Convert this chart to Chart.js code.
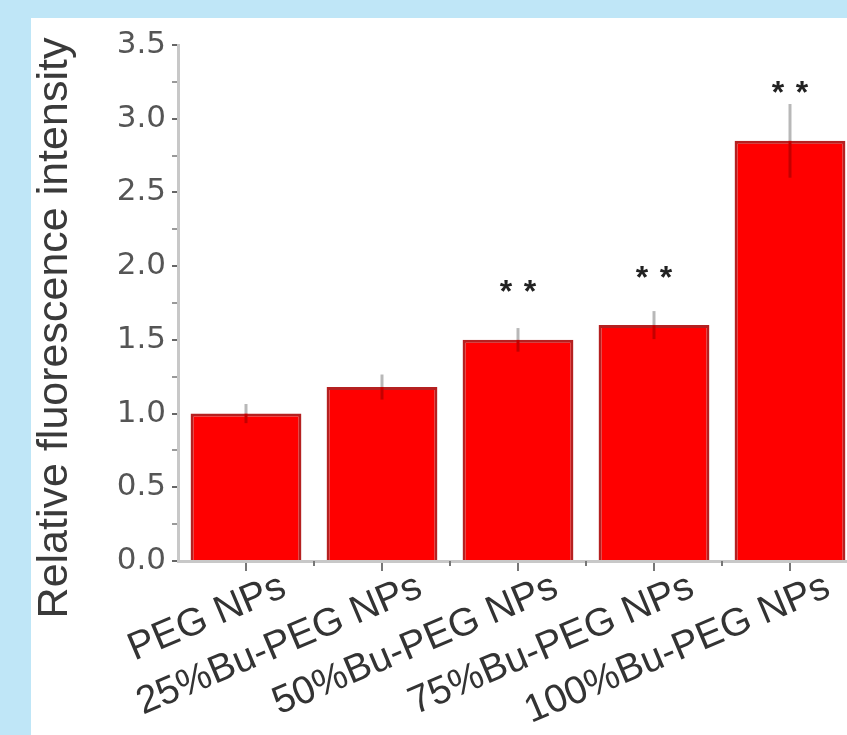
<!DOCTYPE html>
<html>
<head>
<meta charset="utf-8">
<script src="https://cdn.jsdelivr.net/npm/chart.js@4/dist/chart.umd.min.js"></script>
<style>
html, body { margin: 0; padding: 0; width: 847px; height: 735px; overflow: hidden; background: #bfe6f7; }
#panel { position: absolute; left: 31px; top: 18px; width: 830px; height: 717px; background: #fff; }
#chart { display: block; }
</style>
</head>
<body>
<div id="panel"><canvas id="chart" width="830" height="717"></canvas></div>
<script>
// values
const categories = ['PEG NPs', '25%Bu-PEG NPs', '50%Bu-PEG NPs', '75%Bu-PEG NPs', '100%Bu-PEG NPs'];
const intensity = [1.00, 1.18, 1.50, 1.60, 2.85];
const errors = [0.065, 0.085, 0.08, 0.095, 0.25];
const significance = ['', '', '**', '**', '**'];
const starLevel = [null, null, 1.87, 1.97, 3.22];
const yTicks = [0, 0.5, 1.0, 1.5, 2.0, 2.5, 3.0, 3.5];
const yTitle = 'Relative fluorescence intensity';

const FONT = "'Liberation Sans', Arial, sans-serif";
const WIDE = "'DejaVu Sans', sans-serif";

// error bars, minor x ticks, ** marks and the y title
const extras = {
    id: 'extras',
    afterDatasetsDraw(chart) {
        const ctx = chart.ctx;
        const y = chart.scales.y;
        const x = chart.scales.x;
        const meta = chart.getDatasetMeta(0);
        ctx.save();
        ctx.lineWidth = 3;
        meta.data.forEach((bar, i) => {
            const top = y.getPixelForValue(intensity[i] + errors[i]);
            const bottom = y.getPixelForValue(intensity[i] - errors[i]);
            ctx.strokeStyle = '#b8b8b8';
            ctx.beginPath(); ctx.moveTo(bar.x, top); ctx.lineTo(bar.x, bar.y); ctx.stroke();
            ctx.strokeStyle = '#c40000';
            ctx.beginPath(); ctx.moveTo(bar.x, bar.y); ctx.lineTo(bar.x, bottom); ctx.stroke();
        });

        // short ticks between the categories
        ctx.strokeStyle = '#777';
        ctx.lineWidth = 2;
        const base = chart.chartArea.bottom;
        for (let i = 1; i < categories.length; i++) {
            const bx = (x.getPixelForValue(i - 1) + x.getPixelForValue(i)) / 2;
            ctx.beginPath(); ctx.moveTo(bx, base); ctx.lineTo(bx, base + 5); ctx.stroke();
        }

        ctx.fillStyle = '#222';
        ctx.font = 'bold 32px ' + FONT;
        ctx.textAlign = 'center';
        ctx.textBaseline = 'alphabetic';
        significance.forEach((s, i) => {
            if (!s) return;
            const cx = meta.data[i].x;
            const cy = y.getPixelForValue(starLevel[i]) + 17;
            ctx.fillText('*', cx - 12, cy);
            ctx.fillText('*', cx + 12, cy);
        });

        // y title, sitting a little below the axis centre as in the figure
        ctx.translate(24, (chart.chartArea.top + chart.chartArea.bottom) / 2 + 25);
        ctx.rotate(-Math.PI / 2);
        ctx.font = '43px ' + FONT;
        ctx.fillStyle = '#3a3a3a';
        ctx.textBaseline = 'middle';
        ctx.fillText(yTitle, 0, 0);
        ctx.restore();
    }
};

new Chart(document.getElementById('chart'), {
    type: 'bar',
    data: {
        labels: categories,
        datasets: [{
            data: intensity,
            backgroundColor: '#ff0000',
            borderColor: '#b52020',
            borderWidth: 3,
            categoryPercentage: 1,
            barPercentage: 0.815
        }]
    },
    options: {
        responsive: false,
        animation: false,
        layout: { padding: { top: 27, right: 3, left: 0, bottom: 0 } },
        plugins: { legend: { display: false }, tooltip: { enabled: false } },
        scales: {
            x: {
                grid: { offset: false, drawOnChartArea: false, tickLength: 10, color: '#777', lineWidth: 2 },
                border: { color: '#c8c8c8', width: 3 },
                ticks: {
                    minRotation: 23,
                    maxRotation: 23,
                    labelOffset: 38,
                    padding: -7,
                    color: '#333',
                    font: { family: FONT, size: 39 }
                },
                afterFit(scale) { scale.height = 174; }
            },
            y: {
                min: 0,
                max: 3.5,
                grid: {
                    drawOnChartArea: false,
                    tickLength: 6,
                    lineWidth: 2,
                    color: c => yTicks.includes(c.tick.value) ? '#666' : '#999'
                },
                border: { color: '#c8c8c8', width: 3 },
                ticks: {
                    stepSize: 0.25,
                    autoSkip: false,
                    padding: 6,
                    color: '#555',
                    font: { family: WIDE, size: 31 },
                    callback: v => yTicks.includes(v) ? v.toFixed(1) : ''
                },
                afterFit(scale) { scale.width = 147; }
            }
        }
    },
    plugins: [extras]
});
</script>
</body>
</html>
